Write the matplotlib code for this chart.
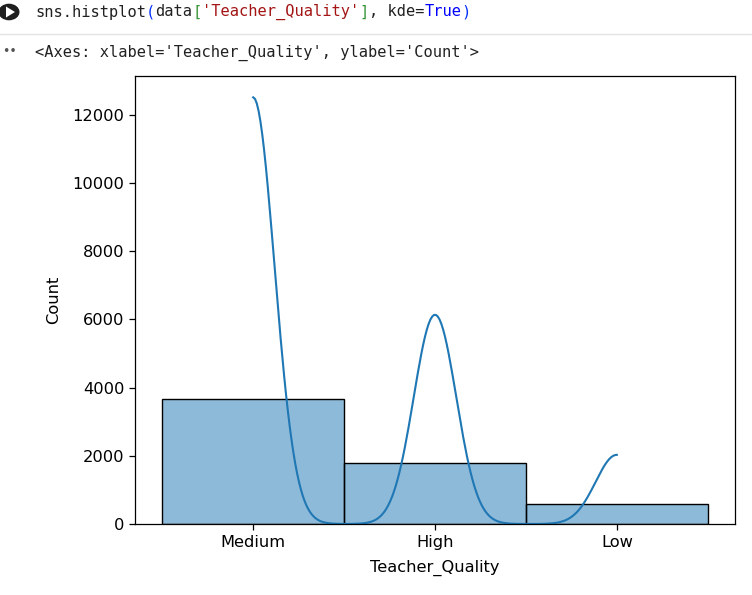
import numpy as np
import matplotlib
matplotlib.use("Agg")
import matplotlib.pyplot as plt
from matplotlib.patches import Circle, Polygon
import seaborn as sns

# counts
categories = ["Medium", "High", "Low"]
counts = [3670, 1800, 595]

W, H = 752, 595

def fx(x):
    return x / W

def fy(y):
    return 1 - y / H

plt.rcParams["font.size"] = 11.7

fig = plt.figure(figsize=(W / 100, H / 100), dpi=100)
fig.patch.set_facecolor("white")

# notebook cell header
fig.patches.append(Circle((fx(9), fy(12)), 10.5 / W, transform=fig.transFigure,
                          facecolor="#1f1f1f", edgecolor="none"))
fig.patches.append(Polygon([[fx(6), fy(6.5)], [fx(6), fy(17.5)], [fx(15), fy(12)]],
                           closed=True, transform=fig.transFigure,
                           facecolor="white", edgecolor="none"))

mono = dict(family="DejaVu Sans Mono", fontsize=11.1, va="center", ha="left")
cw = 9.27
x0 = 35
code_parts = [
    ("sns.histplot", "#212121"),
    ("(", "#0431fa"),
    ("data", "#212121"),
    ("[", "#319331"),
    ("'Teacher_Quality'", "#a31515"),
    ("]", "#319331"),
    (", kde=", "#212121"),
    ("True", "#0000ff"),
    (")", "#0431fa"),
]
pos = 0
for txt, col in code_parts:
    fig.text(fx(x0 + pos * cw), fy(12), txt, color=col, **mono)
    pos += len(txt)

fig.add_artist(plt.Line2D([0, 1], [fy(34), fy(34)], transform=fig.transFigure,
                          color="#e3e3e3", lw=1))
fig.text(fx(2), fy(52), "••", color="#555555", fontsize=9, va="center", ha="left")
fig.text(fx(x0), fy(53), "<Axes: xlabel='Teacher_Quality', ylabel='Count'>",
         color="#212121", **mono)

# chart
ax = fig.add_axes([fx(135), fy(524), (735 - 135) / W, (524 - 76) / H])
teacher_quality = np.repeat(categories, counts)
sns.histplot(teacher_quality, kde=True, ax=ax)
ax.set_xlabel("Teacher_Quality", labelpad=7)
ax.set_ylabel("Count", labelpad=8)
ax.tick_params(length=4.2, width=0.9)
for s in ax.spines.values():
    s.set_linewidth(0.9)

fig.savefig("out.png", dpi=100)
